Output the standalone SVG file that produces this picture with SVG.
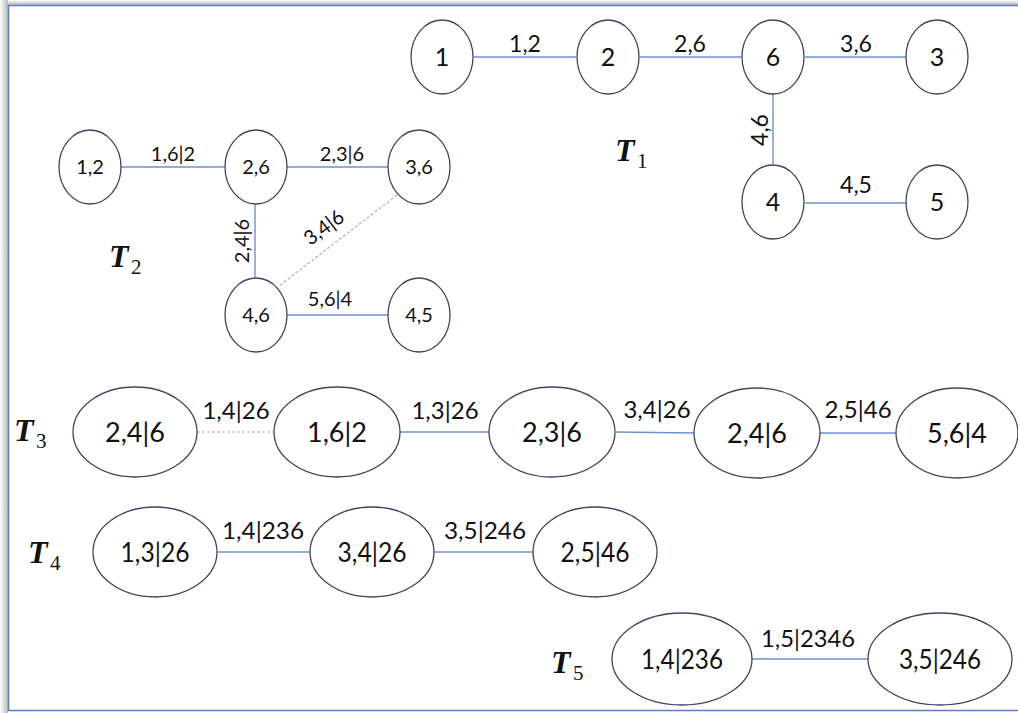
<svg xmlns="http://www.w3.org/2000/svg" width="1018" height="713" viewBox="0 0 1018 713">
<defs>
<linearGradient id="gl" x1="0" y1="0" x2="1" y2="0"><stop offset="0" stop-color="#ffffff"/><stop offset="1" stop-color="#b8b8b8"/></linearGradient>
<linearGradient id="gt" x1="0" y1="0" x2="0" y2="1"><stop offset="0" stop-color="#ffffff"/><stop offset="1" stop-color="#b8b8b8"/></linearGradient>
</defs>
<style>
.n{fill:#fff;stroke:#3d4660;stroke-width:1.3}
.e{stroke:#6f8fd0;stroke-width:1.4;fill:none}
.d{stroke:#b0b0b0;stroke-width:1.2;stroke-dasharray:3 2;fill:none}
.t{font-family:Lato,"Liberation Sans",sans-serif;fill:#111;text-anchor:middle}
.T{font-family:"Liberation Serif",serif;font-weight:bold;font-style:italic;font-size:32px;fill:#111}
.s{font-family:"Liberation Serif",serif;font-size:21px;fill:#111}
</style>
<rect width="1018" height="713" fill="#fff"/>
<rect x="0" y="0" width="8" height="713" fill="url(#gl)"/>
<rect x="8" y="0" width="1010" height="5" fill="url(#gt)"/>
<path d="M8.5 711 V5.5 H1018 M8 710.5 H1018" stroke="#5b7fc6" stroke-width="1.5" fill="none"/>

<g id="connectors">
<line class="e" x1="474" y1="57" x2="576" y2="57"/>
<line class="e" x1="640" y1="57" x2="741" y2="57"/>
<line class="e" x1="805" y1="57" x2="906" y2="57"/>
<line class="e" x1="773" y1="94" x2="773" y2="164"/>
<line class="e" x1="805" y1="203" x2="906" y2="203"/>
<line class="e" x1="121" y1="167" x2="225" y2="167"/>
<line class="e" x1="287" y1="167" x2="388" y2="167"/>
<line class="e" x1="255" y1="204" x2="255" y2="278"/>
<line class="d" x1="397" y1="195" x2="279" y2="286"/>
<line class="e" x1="287" y1="315" x2="388" y2="315"/>
<line class="d" x1="197" y1="432" x2="273" y2="432"/>
<line class="e" x1="400" y1="432" x2="489" y2="432"/>
<line class="e" x1="616" y1="432" x2="694" y2="433"/>
<line class="e" x1="820" y1="433" x2="896" y2="433"/>
<line class="e" x1="218" y1="552" x2="310" y2="552"/>
<line class="e" x1="434" y1="552" x2="533" y2="552"/>
<line class="e" x1="752" y1="659" x2="868" y2="659"/>
<text class="t" x="525" y="52" font-size="23">1,2</text>
<text class="t" x="690" y="52" font-size="23">2,6</text>
<text class="t" x="856" y="52" font-size="23">3,6</text>
<text class="t" x="856" y="193" font-size="23">4,5</text>
<text class="t" font-size="23" transform="translate(768 130) rotate(-90)">4,6</text>
<text class="t" x="173" y="161" font-size="20">1,6|2</text>
<text class="t" x="342" y="161" font-size="20">2,3|6</text>
<text class="t" font-size="20" transform="translate(249 241) rotate(-90)">2,4|6</text>
<text class="t" font-size="20" transform="translate(328 233) rotate(-37)">3,4|6</text>
<text class="t" x="330" y="306" font-size="20">5,6|4</text>
<text class="t" x="236" y="419" font-size="24">1,4|26</text>
<text class="t" x="445" y="419" font-size="24">1,3|26</text>
<text class="t" x="657" y="418" font-size="24">3,4|26</text>
<text class="t" x="858" y="418" font-size="24">2,5|46</text>
<text class="t" x="263" y="539" font-size="24" textLength="82" lengthAdjust="spacingAndGlyphs">1,4|236</text>
<text class="t" x="485" y="539" font-size="24" textLength="82" lengthAdjust="spacingAndGlyphs">3,5|246</text>
<text class="t" x="808" y="647" font-size="24" textLength="94" lengthAdjust="spacingAndGlyphs">1,5|2346</text>
</g>

<g id="T1">
<g id="n1"><ellipse class="n" cx="442" cy="57" rx="31" ry="37"/><text class="t" x="442" y="66" font-size="25">1</text></g>
<g id="n2"><ellipse class="n" cx="608" cy="57" rx="31" ry="37"/><text class="t" x="608" y="66" font-size="25">2</text></g>
<g id="n6"><ellipse class="n" cx="773" cy="57" rx="31" ry="37"/><text class="t" x="773" y="66" font-size="25">6</text></g>
<g id="n3"><ellipse class="n" cx="937" cy="57" rx="31" ry="37"/><text class="t" x="937" y="66" font-size="25">3</text></g>
<g id="n4"><ellipse class="n" cx="773" cy="202" rx="31" ry="37"/><text class="t" x="773" y="211" font-size="25">4</text></g>
<g id="n5"><ellipse class="n" cx="937" cy="202" rx="31" ry="37"/><text class="t" x="937" y="211" font-size="25">5</text></g>
<g id="lab1"><text class="T" x="615" y="161">T</text><text class="s" x="637" y="168">1</text></g>
</g>

<g id="T2">
<g id="m12"><ellipse class="n" cx="90" cy="167" rx="31" ry="37"/><text class="t" x="90" y="174" font-size="20">1,2</text></g>
<g id="m26"><ellipse class="n" cx="256" cy="167" rx="31" ry="37"/><text class="t" x="256" y="174" font-size="20">2,6</text></g>
<g id="m36"><ellipse class="n" cx="419" cy="167" rx="31" ry="37"/><text class="t" x="419" y="174" font-size="20">3,6</text></g>
<g id="m46"><ellipse class="n" cx="256" cy="315" rx="31" ry="37"/><text class="t" x="256" y="322" font-size="20">4,6</text></g>
<g id="m45"><ellipse class="n" cx="419" cy="315" rx="31" ry="37"/><text class="t" x="419" y="322" font-size="20">4,5</text></g>
<g id="lab2"><text class="T" x="109" y="267">T</text><text class="s" x="131" y="274">2</text></g>
</g>

<g id="T3">
<g id="p1"><ellipse class="n" cx="135" cy="432" rx="62" ry="45"/><text class="t" x="135" y="442" font-size="27">2,4|6</text></g>
<g id="p2"><ellipse class="n" cx="337" cy="432" rx="63" ry="45"/><text class="t" x="337" y="442" font-size="27">1,6|2</text></g>
<g id="p3"><ellipse class="n" cx="552" cy="432" rx="63" ry="45"/><text class="t" x="552" y="442" font-size="27">2,3|6</text></g>
<g id="p4"><ellipse class="n" cx="757" cy="433" rx="63" ry="45"/><text class="t" x="757" y="443" font-size="27">2,4|6</text></g>
<g id="p5"><ellipse class="n" cx="957" cy="433" rx="61" ry="45"/><text class="t" x="957" y="443" font-size="27">5,6|4</text></g>
<g id="lab3"><text class="T" x="14" y="441">T</text><text class="s" x="36" y="448">3</text></g>
</g>

<g id="T4">
<g id="q1"><ellipse class="n" cx="155" cy="552" rx="62" ry="45"/><text class="t" x="155" y="562" font-size="26" textLength="69" lengthAdjust="spacingAndGlyphs">1,3|26</text></g>
<g id="q2"><ellipse class="n" cx="372" cy="552" rx="62" ry="45"/><text class="t" x="372" y="562" font-size="26" textLength="69" lengthAdjust="spacingAndGlyphs">3,4|26</text></g>
<g id="q3"><ellipse class="n" cx="595" cy="552" rx="62" ry="45"/><text class="t" x="595" y="562" font-size="26" textLength="69" lengthAdjust="spacingAndGlyphs">2,5|46</text></g>
<g id="lab4"><text class="T" x="28" y="563">T</text><text class="s" x="50" y="570">4</text></g>
</g>

<g id="T5">
<g id="r1"><ellipse class="n" cx="682" cy="659" rx="70" ry="46"/><text class="t" x="682" y="669" font-size="26" textLength="82" lengthAdjust="spacingAndGlyphs">1,4|236</text></g>
<g id="r2"><ellipse class="n" cx="940" cy="659" rx="72" ry="46"/><text class="t" x="940" y="669" font-size="26" textLength="82" lengthAdjust="spacingAndGlyphs">3,5|246</text></g>
<g id="lab5"><text class="T" x="551" y="673">T</text><text class="s" x="573" y="680">5</text></g>
</g>
</svg>
